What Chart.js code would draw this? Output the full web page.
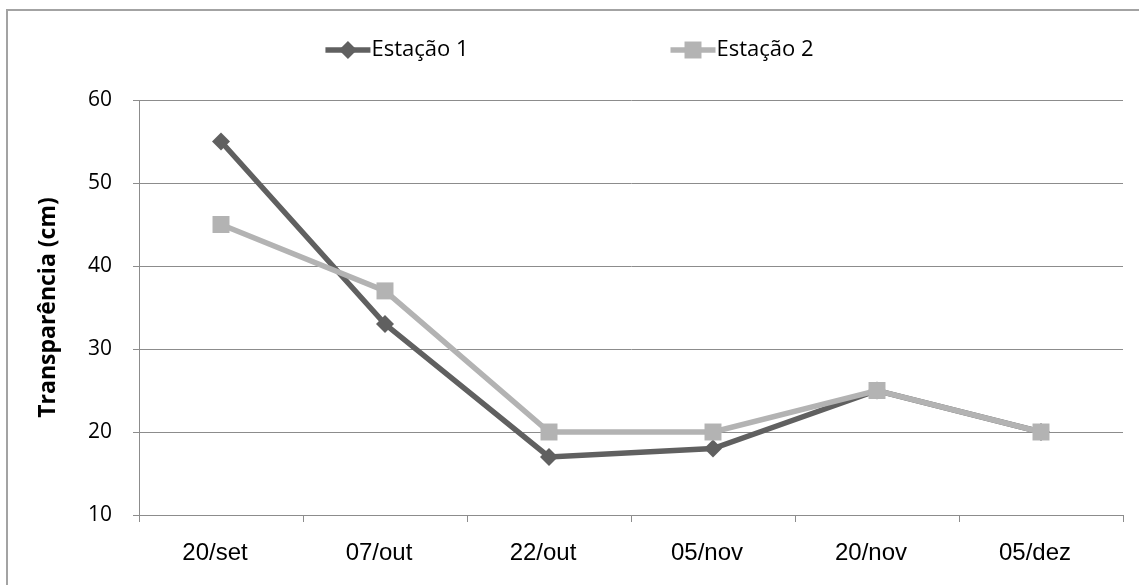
<!DOCTYPE html>
<html>
<head>
<meta charset="utf-8">
<script src="https://cdn.jsdelivr.net/npm/chart.js@4/dist/chart.umd.min.js"></script>
<style>
  html, body { margin: 0; padding: 0; background: #fff; overflow: hidden; }
  #wrap { position: relative; width: 1139px; height: 585px; overflow: hidden; }
  #frame { position: absolute; left: 6px; top: 9px; width: 1300px; height: 800px; border: 2px solid #a3a3a3; box-sizing: border-box; }
  #c { position: absolute; left: 0; top: 0; }
</style>
</head>
<body>
<div id="wrap">
  <div id="frame"></div>
  <canvas id="c" width="1139" height="585"></canvas>
</div>
<script>
const categories = ['20/set', '07/out', '22/out', '05/nov', '20/nov', '05/dez'];
const estacao1 = [55, 33, 17, 18, 25, 20];
const estacao2 = [45, 37, 20, 20, 25, 20];
const seriesNames = ['Estação 1', 'Estação 2'];
const yTitle = 'Transparência (cm)';
const yTicks = [10, 20, 30, 40, 50, 60];

const C1 = '#606060';
const C2 = '#b3b3b3';
const GRID = '#8c8c8c';

function drawMarker(ctx, style, x, y, r, color) {
  ctx.save();
  ctx.fillStyle = color;
  ctx.beginPath();
  if (style === 'rectRot') {
    ctx.moveTo(x - r, y); ctx.lineTo(x, y - r); ctx.lineTo(x + r, y); ctx.lineTo(x, y + r);
  } else {
    const s = r * Math.SQRT1_2;
    ctx.rect(x - s, y - s, 2 * s, 2 * s);
  }
  ctx.closePath();
  ctx.fill();
  ctx.restore();
}

const legendPlugin = {
  id: 'excelLegend',
  afterDraw(chart) {
    const ctx = chart.ctx;
    ctx.save();
    ctx.font = '22px "Open Sans"';
    const lineLen = 45, textGap = 1, itemGap = 202, cy = 50;
    const items = chart.data.datasets.map(ds => ({ ds, w: lineLen + textGap + ctx.measureText(ds.label).width }));
    const total = items.reduce((a, it) => a + it.w, 0) + itemGap * (items.length - 1);
    let x = chart.width / 2 - total / 2;
    items.forEach(it => {
      const ds = it.ds;
      ctx.strokeStyle = ds.borderColor;
      ctx.lineWidth = ds.borderWidth;
      ctx.beginPath(); ctx.moveTo(x, cy); ctx.lineTo(x + lineLen, cy); ctx.stroke();
      drawMarker(ctx, ds.pointStyle, x + lineLen / 2, cy, ds.pointRadius, ds.pointBackgroundColor);
      ctx.fillStyle = '#000';
      ctx.textBaseline = 'middle';
      ctx.textAlign = 'left';
      ctx.fillText(ds.label, x + lineLen + textGap, cy);
      x += it.w + itemGap;
    });
    ctx.restore();
  }
};

new Chart(document.getElementById('c'), {
  type: 'line',
  data: {
    labels: categories,
    datasets: [
      { label: seriesNames[0], data: estacao1, borderColor: C1, backgroundColor: C1, order: 1,
        pointBackgroundColor: C1, pointBorderColor: C1, borderWidth: 5.5,
        pointStyle: 'rectRot', pointRadius: 9, pointBorderWidth: 0, tension: 0 },
      { label: seriesNames[1], data: estacao2, borderColor: C2, backgroundColor: C2, order: 0,
        pointBackgroundColor: C2, pointBorderColor: C2, borderWidth: 5.5,
        pointStyle: 'rect', pointRadius: 12, pointBorderWidth: 0, tension: 0 }
    ]
  },
  options: {
    responsive: false,
    animation: false,
    devicePixelRatio: 1,
    layout: { padding: { top: 100, right: 16, left: 0, bottom: 0 } },
    plugins: { legend: { display: false }, tooltip: { enabled: false } },
    scales: {
      x: {
        offset: true,
        afterFit(s) { s.height = 70; },
        grid: { offset: true, drawOnChartArea: false, drawTicks: true, tickLength: 7, color: GRID, lineWidth: 1 },
        border: { display: true, color: GRID, width: 1 },
        ticks: { color: '#000', padding: 17, labelOffset: -6, font: { family: '"Liberation Sans", Arial', size: 24 }, maxRotation: 0 }
      },
      y: {
        min: yTicks[0], max: yTicks[yTicks.length - 1],
        afterFit(s) { s.width = 139; },
        afterBuildTicks(s) { s.ticks = yTicks.map(v => ({ value: v })); },
        grid: { color: GRID, lineWidth: 1, tickLength: 6, drawTicks: true },
        border: { display: true, color: GRID, width: 1 },
        ticks: { color: '#000', padding: 21, font: { family: '"Open Sans"', size: 21 } },
        title: { display: true, text: yTitle, color: '#000', padding: { top: 35, bottom: 0 },
                 font: { family: '"Open Sans"', size: 23, weight: 'bold' } }
      }
    }
  },
  plugins: [legendPlugin]
});
</script>
</body>
</html>
